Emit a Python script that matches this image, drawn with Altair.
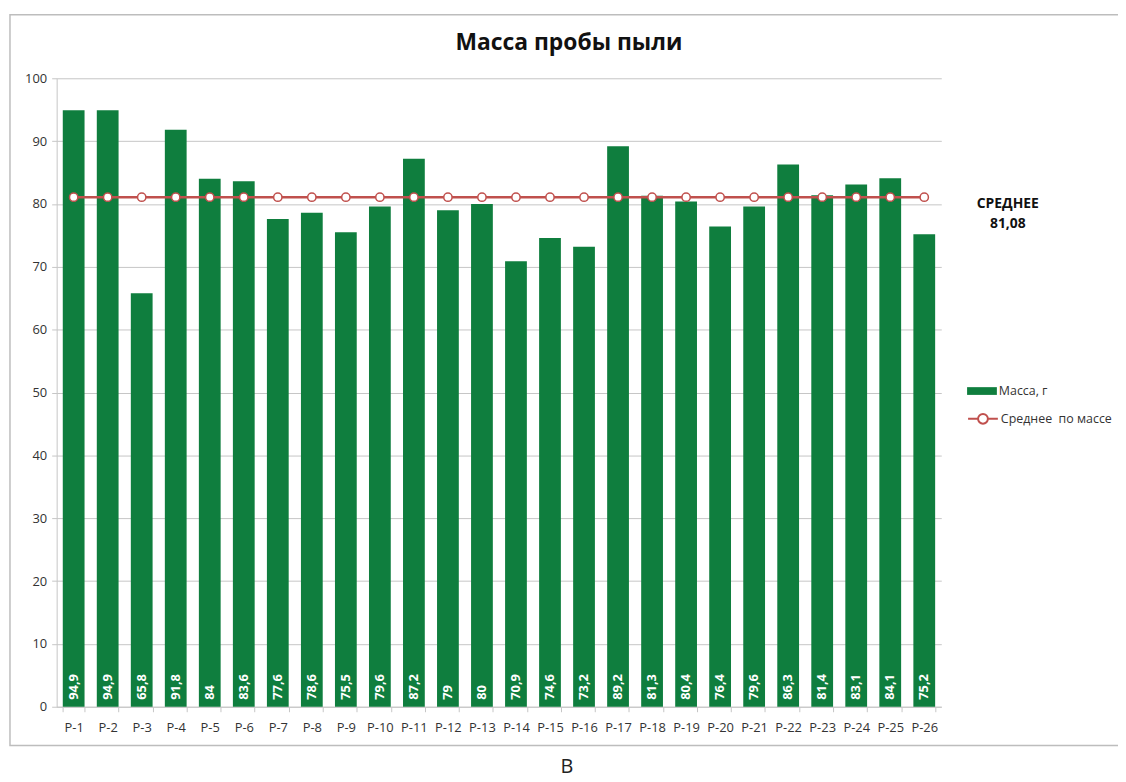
import altair as alt
import pandas as pd

categories = ["Р-1", "Р-2", "Р-3", "Р-4", "Р-5", "Р-6", "Р-7", "Р-8", "Р-9", "Р-10",
              "Р-11", "Р-12", "Р-13", "Р-14", "Р-15", "Р-16", "Р-17", "Р-18", "Р-19",
              "Р-20", "Р-21", "Р-22", "Р-23", "Р-24", "Р-25", "Р-26"]
mass = [94.9, 94.9, 65.8, 91.8, 84, 83.6, 77.6, 78.6, 75.5, 79.6, 87.2, 79, 80,
        70.9, 74.6, 73.2, 89.2, 81.3, 80.4, 76.4, 79.6, 86.3, 81.4, 83.1, 84.1, 75.2]
mean_value = 81.08
mean_series = [mean_value] * len(categories)
mean_text = ["СРЕДНЕЕ", "81,08"]
y_ticks = [0, 10, 20, 30, 40, 50, 60, 70, 80, 90, 100]

BAR_NAME = "Масса, г"
LINE_NAME = "Среднее\u00a0 по массе"

df = pd.DataFrame({
    "cat": categories,
    "mass": mass,
    "mean": mean_series,
    "label": [f"{v:g}".replace(".", ",") for v in mass],
    "s_bar": BAR_NAME,
    "s_line": LINE_NAME,
})

W, H = 891, 633
GREEN = "#0F7E3E"
RED = "#C0504D"
FONT = "Open Sans"
GRID = "#C6C6C6"

x_enc = alt.X(
    "cat:N", sort=categories, title=None,
    scale=alt.Scale(paddingInner=0.36, paddingOuter=0.18),
    axis=alt.Axis(labelAngle=0, tickBand="extent", tickSize=5, tickColor=GRID,
                  domainColor=GRID, labelFontSize=13, labelColor="#333333",
                  labelFont=FONT, labelPadding=10, grid=False),
)
y_scale = alt.Scale(domain=[0, 100], nice=False)

base = alt.Chart(df)

legend_common = dict(title=None, orient="none", padding=0, labelFont=FONT,
                     labelFontSize=12.5, labelColor="#333333", labelOffset=2,
                     symbolSize=900)

bars = base.mark_bar(color=GREEN).encode(
    x=x_enc,
    y=alt.Y("mass:Q", scale=y_scale, title=None,
            axis=alt.Axis(values=y_ticks, grid=True, gridColor=GRID, tickSize=5,
                          tickColor=GRID, domainColor=GRID, labelFontSize=13,
                          labelColor="#333333", labelFont=FONT, labelPadding=5)),
    fill=alt.Fill("s_bar:N", scale=alt.Scale(domain=[BAR_NAME], range=[GREEN]),
                  legend=alt.Legend(legendX=917, legendY=300,
                                    symbolType="M-1,-0.26H1V0.26H-1Z",
                                    symbolStrokeWidth=0, **legend_common)),
)

labels = base.mark_text(angle=270, align="left", baseline="middle", dx=7,
                        color="white", fontWeight="bold", fontSize=13, font=FONT).encode(
    x=alt.X("cat:N", sort=categories),
    y=alt.datum(0),
    text="label:N",
)

line = base.mark_line(strokeWidth=2.5,
                      point=alt.OverlayMarkDef(filled=False, fill="white", size=70,
                                               strokeWidth=1.5)).encode(
    x=alt.X("cat:N", sort=categories),
    y=alt.Y("mean:Q", scale=y_scale),
    stroke=alt.Stroke("s_line:N", scale=alt.Scale(domain=[LINE_NAME], range=[RED]),
                      legend=alt.Legend(legendX=917, legendY=327,
                                        symbolType="M-1,0H-0.33M0.33,0H1M-0.33,0A0.33,0.33 0 1,0 0.33,0A0.33,0.33 0 1,0 -0.33,0Z",
                                        symbolStrokeWidth=2, symbolFillColor="white",
                                        **legend_common)),
)

one = alt.Chart(pd.DataFrame({"k": [0]}))

mean_note = one.mark_text(text=mean_text, align="center", baseline="top", fontSize=14,
                          fontWeight="bold", font=FONT, color="#111111", lineHeight=20).encode(
    x=alt.value(958),
    y=alt.datum(mean_value, type="quantitative"),
)

title = one.mark_text(text="Масса пробы пыли", align="center", baseline="middle",
                      fontSize=23, fontWeight="bold", font=FONT, color="#111111").encode(
    x=alt.value(516), y=alt.value(-35),
)

frame = one.mark_rect(fill="transparent", stroke="#BDBDBD", strokeWidth=1.5).encode(
    x=alt.value(-47), x2=alt.value(1090), y=alt.value(-64), y2=alt.value(672),
)

caption = one.mark_text(text="В", align="center", baseline="middle", fontSize=20,
                        font=FONT, color="#222222").encode(
    x=alt.value(514), y=alt.value(694),
)

chart = alt.layer(frame, bars, labels, line, mean_note, title, caption).properties(
    width=W, height=H,
    autosize=alt.AutoSizeParams(type="none"),
    padding={"left": 49, "top": 68, "right": 178, "bottom": 73},
).resolve_scale(y="shared").configure_view(stroke=None)

chart.save("out.html", embed_options={"renderer": "svg", "actions": False})
